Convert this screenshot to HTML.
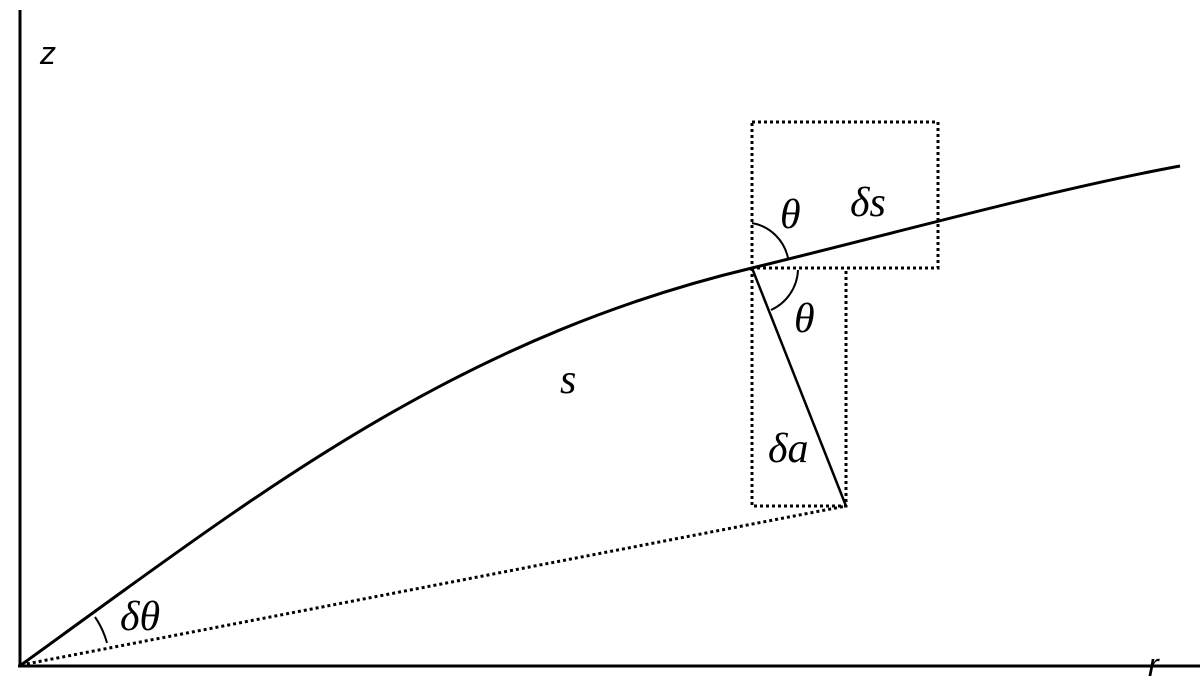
<!DOCTYPE html>
<html><head><style>html,body{margin:0;padding:0;background:#fff;}svg{display:block}</style></head>
<body>
<svg width="1200" height="683" viewBox="0 0 1200 683" xmlns="http://www.w3.org/2000/svg">
<g stroke="#000" fill="none">
<line x1="20" y1="10" x2="20" y2="667" stroke-width="3"/>
<line x1="18" y1="666" x2="1200" y2="666" stroke-width="3"/>
<path d="M21,665 C250,500 450,340 752,268 C900,232 1050,190 1180,166" stroke-width="3"/>
<g stroke-width="3" stroke-dasharray="3,3">
<rect x="752" y="122" width="186" height="146"/>
<polyline points="752,268 752,506 846,506 846,268"/>
<line x1="21" y1="665" x2="846" y2="506"/>
</g>
<line x1="752" y1="268" x2="846" y2="506" stroke-width="2.5"/>
<path d="M752,223 A45,45 0 0 1 788,258" stroke-width="2"/>
<path d="M798,270 A46,46 0 0 1 771,310" stroke-width="2"/>
<path d="M95,617 A85,85 0 0 1 107,643" stroke-width="2"/>
</g>
<g font-family="'Liberation Serif',serif" font-style="italic" font-size="42" fill="#000">
<text x="780" y="228">θ</text>
<text x="850" y="216">δs</text>
<text x="794" y="332">θ</text>
<text x="768" y="462">δa</text>
<text x="560" y="393">s</text>
<text x="120" y="630">δθ</text>
</g>
<g font-family="'Liberation Sans',sans-serif" font-style="italic" font-size="32" fill="#000">
<text x="40" y="64">z</text>
<text x="1148" y="676">r</text>
</g>
</svg>
</body></html>
